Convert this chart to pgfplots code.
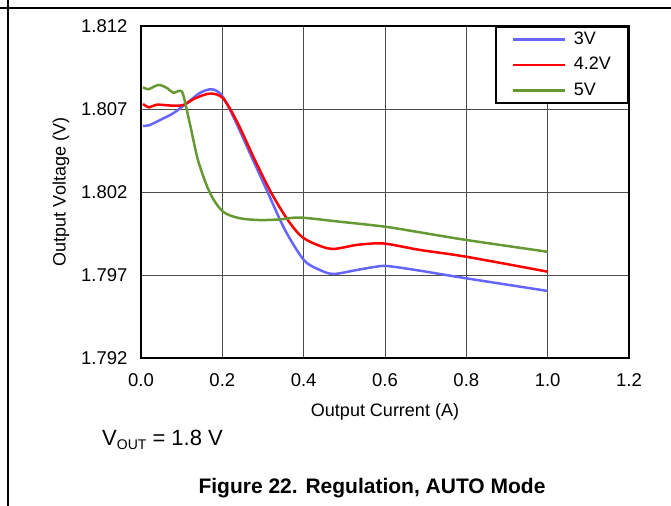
\documentclass[border=0pt]{standalone}
\usepackage{fontspec}
\setmainfont{Liberation Sans}
\usepackage{pgfplots}
\pgfplotsset{compat=1.18}
\definecolor{cthree}{RGB}{102,102,255}
\definecolor{cfour}{RGB}{255,0,0}
\definecolor{cfive}{RGB}{102,153,51}
\newcommand{\fs}{\fontsize{18.5bp}{21bp}\selectfont}
\newcommand{\fl}{\fontsize{18bp}{21bp}\selectfont}

\begin{document}
\begin{tikzpicture}
\path[use as bounding box] (0,0) rectangle (671bp,-506bp);
\draw[line width=1.2bp] (0,-8bp) -- (671bp,-8bp);
\draw[line width=1.2bp] (8bp,0) -- (8bp,-506bp);
\begin{axis}[
  at={(141bp,-358bp)}, anchor=south west,
  scale only axis, width=488bp, height=332bp,
  xmin=0, xmax=1.2, ymin=1.792, ymax=1.812,
  xtick={0,0.2,0.4,0.6,0.8,1.0,1.2},
  ytick={1.792,1.797,1.802,1.807,1.812},
  major tick length=0pt,
  grid=major,
  major grid style={black!70, line width=0.8bp},
  axis line style={line width=2.4bp},
  /pgf/number format/assume math mode=true,
  xticklabel style={font=\fs, /pgf/number format/.cd, fixed, fixed zerofill, precision=1},
  yticklabel style={font=\fs, xshift=-10bp, /pgf/number format/.cd, fixed, fixed zerofill, precision=3},
  xticklabel shift=12bp,
  xlabel={Output Current (A)},
  ylabel={Output Voltage (V)},
  label style={font=\fl},
  xlabel style={yshift=-10bp},
  ylabel style={yshift=5bp},
  legend style={at={(1,1)}, anchor=north east, draw=black, line width=2.4bp,
    font=\fl, inner xsep=15bp, inner ysep=2bp, row sep=4.5bp,
    nodes={inner sep=2bp, text height=13bp, text depth=4bp},
    /tikz/every odd column/.append style={column sep=6bp}},
  legend cell align=left,
  legend image code/.code={\draw[#1, line width=2.5bp] (0bp,0bp) -- (52bp,0bp);},
  every axis plot/.append style={line width=2.5bp, smooth, no markers},
]
\addplot[cthree] coordinates {
(0.005,1.80598) (0.020,1.80602) (0.047,1.80634) (0.079,1.80674) (0.112,1.80734)
(0.145,1.80797) (0.174,1.80819) (0.198,1.80784) (0.227,1.80654) (0.268,1.80433)
(0.309,1.80212) (0.350,1.79991) (0.383,1.79851) (0.407,1.79774) (0.440,1.79730)
(0.473,1.79706) (0.530,1.79730) (0.590,1.79754) (0.620,1.79750) (0.686,1.79726)
(0.800,1.79680) (1.000,1.79604)
};
\addlegendentry{3V}
\addplot[cfour] coordinates {
(0.005,1.80730) (0.020,1.80710) (0.039,1.80726) (0.079,1.80720) (0.104,1.80724)
(0.133,1.80764) (0.170,1.80793) (0.202,1.80764) (0.238,1.80614) (0.280,1.80393)
(0.321,1.80192) (0.360,1.80035) (0.392,1.79938) (0.424,1.79891) (0.470,1.79857)
(0.530,1.79881) (0.580,1.79891) (0.612,1.79885) (0.686,1.79851) (0.800,1.79810)
(1.000,1.79720)
};
\addlegendentry{4.2V}
\addplot[cfive] coordinates {
(0.005,1.80831) (0.018,1.80819) (0.043,1.80845) (0.065,1.80825) (0.079,1.80798)
(0.096,1.80810) (0.104,1.80784) (0.120,1.80614) (0.141,1.80385) (0.170,1.80192)
(0.202,1.80081) (0.243,1.80042) (0.293,1.80031) (0.342,1.80035) (0.391,1.80046)
(0.489,1.80021) (0.600,1.79991) (0.686,1.79957) (0.800,1.79911) (1.000,1.79840)
};
\addlegendentry{5V}
\end{axis}
\node[anchor=west, font=\fontsize{22bp}{24bp}\selectfont, inner sep=0pt] at (102bp,-440bp)
  {V\raisebox{-4bp}{\fontsize{14bp}{14bp}\selectfont OUT} = 1.8 V};
\node[font=\fontsize{21bp}{24bp}\selectfont\bfseries, inner sep=0pt] at (372bp,-488bp)
  {Figure 22. Regulation, AUTO Mode};
\end{tikzpicture}
\end{document}
